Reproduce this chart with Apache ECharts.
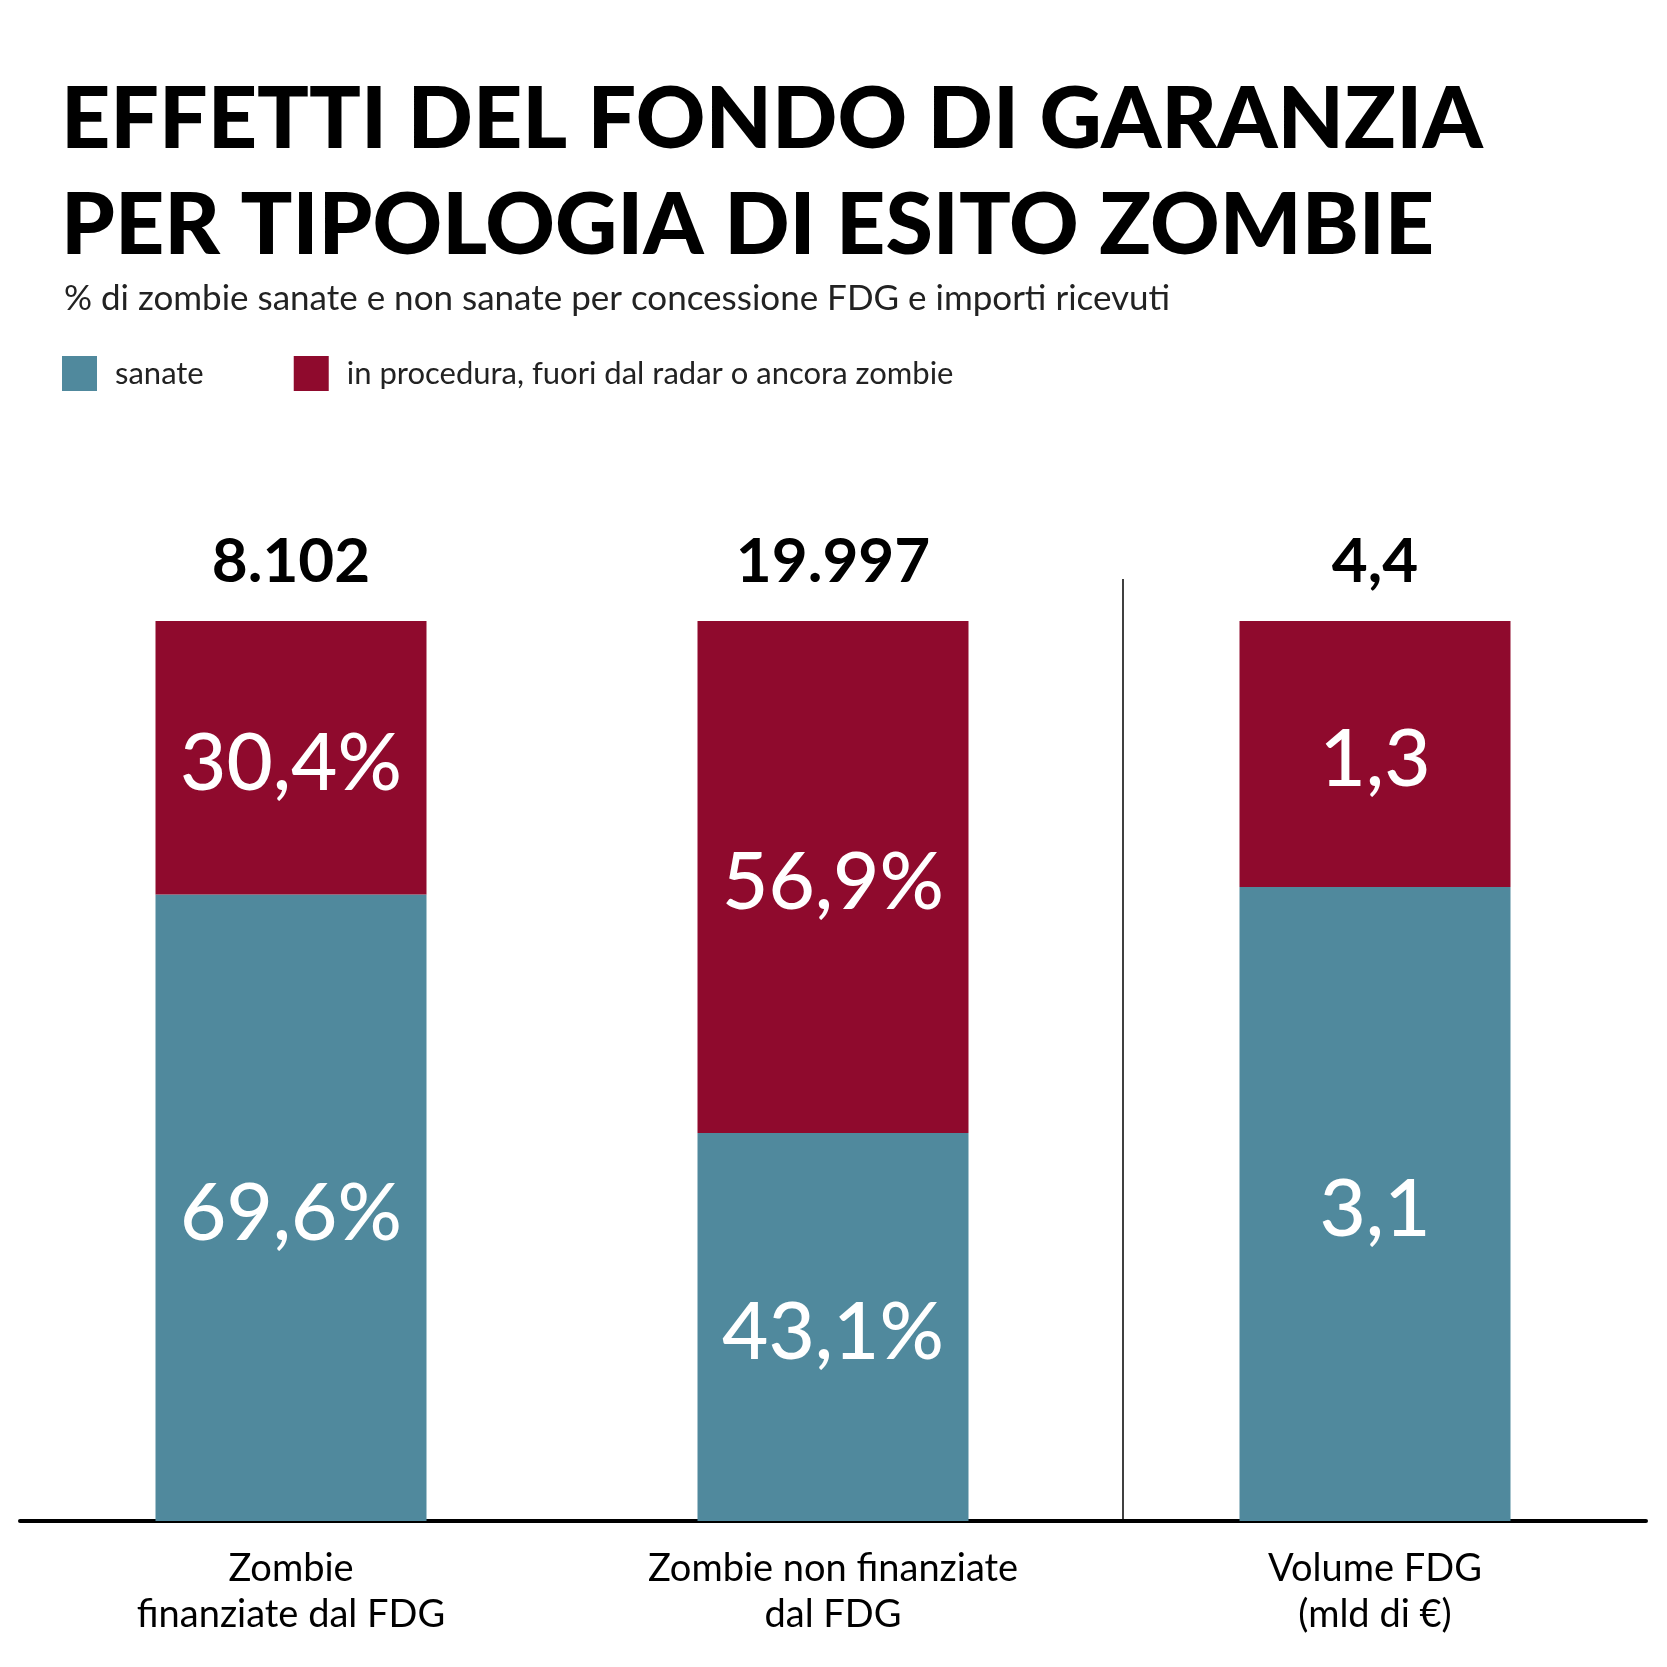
<!DOCTYPE html>
<html><head><meta charset="utf-8">
<script src="https://cdn.jsdelivr.net/npm/echarts@6/dist/echarts.min.js"></script>
<style>html,body{margin:0;padding:0;background:#fff}#c{width:1667px;height:1667px}</style>
</head><body><div id="c"></div>
<script>
const categories = ['Zombie\nfinanziate dal FDG', 'Zombie non finanziate\ndal FDG', 'Volume FDG\n(mld di €)'];
const totalLabels = ['8.102', '19.997', '4,4'];
const sanatePct = [69.6, 43.1, '-'];
const nonSanatePct = [30.4, 56.9, '-'];
const sanateVol = ['-', '-', 3.1];
const nonSanateVol = ['-', '-', 1.3];
const volTotal = 4.4;

const TEAL = '#50899D', RED = '#8F0A2D';
const FONT = 'Lato';
const fmtNum = v => String(v).replace('.', ',');
const inside = (suffix) => ({
  show: true, position: 'inside', offset: [0, 6], color: '#fff', fontFamily: FONT, fontSize: 80, fontWeight: 500,
  formatter: p => fmtNum(p.value) + suffix
});
const topLabel = {
  show: true, position: 'top', distance: 28, color: '#000', fontFamily: FONT, fontSize: 62, fontWeight: 'bold',
  formatter: p => totalLabels[p.dataIndex]
};

const chart = echarts.init(document.getElementById('c'), null, {renderer: 'canvas'});
chart.setOption({
  backgroundColor: '#fff',
  animation: false,
  title: [
    {text: 'EFFETTI DEL FONDO DI GARANZIA\nPER TIPOLOGIA DI ESITO ZOMBIE', left: 56, top: 62,
     textStyle: {fontFamily: FONT, fontWeight: 900, fontSize: 86, lineHeight: 106, color: '#000'}},
    {text: '% di zombie sanate e non sanate per concessione FDG e importi ricevuti', left: 59, top: 274,
     textStyle: {fontFamily: FONT, fontWeight: 'normal', fontSize: 35, lineHeight: 40, color: '#222'}}
  ],
  legend: {
    data: ['sanate', 'in procedura, fuori dal radar o ancora zombie'],
    left: 62, top: 356, padding: 0, itemWidth: 35, itemHeight: 35, itemGap: 90, icon: 'rect',
    textStyle: {fontFamily: FONT, fontSize: 31, color: '#222', padding: [0, 0, 0, 13]}
  },
  grid: {left: 20, width: 1626, top: 621, height: 900, containLabel: false},
  xAxis: {
    type: 'category', data: categories,
    axisLine: {show: true, lineStyle: {color: '#000', width: 4}},
    axisTick: {show: false},
    axisLabel: {fontFamily: FONT, fontSize: 38, lineHeight: 46, color: '#000', margin: 25}
  },
  yAxis: [
    {type: 'value', min: 0, max: 100, show: false, splitLine: {show: false}},
    {type: 'value', min: 0, max: volTotal, show: false, splitLine: {show: false}}
  ],
  series: [
    {name: 'sanate', type: 'bar', stack: 'pct', yAxisIndex: 0, data: sanatePct, barWidth: 271, barGap: '-100%',
     itemStyle: {color: TEAL}, label: inside('%')},
    {name: 'in procedura, fuori dal radar o ancora zombie', type: 'bar', stack: 'pct', yAxisIndex: 0, data: nonSanatePct,
     barWidth: 271, barGap: '-100%', itemStyle: {color: RED}, label: inside('%')},
    {name: 'totPct', type: 'bar', stack: 'pct', yAxisIndex: 0, data: [0, 0, '-'], barWidth: 271, barGap: '-100%',
     itemStyle: {color: 'transparent'}, label: topLabel},
    {name: 'sanate', type: 'bar', stack: 'vol', yAxisIndex: 1, data: sanateVol, barWidth: 271, barGap: '-100%',
     itemStyle: {color: TEAL}, label: inside('')},
    {name: 'in procedura, fuori dal radar o ancora zombie', type: 'bar', stack: 'vol', yAxisIndex: 1, data: nonSanateVol,
     barWidth: 271, barGap: '-100%', itemStyle: {color: RED}, label: inside('')},
    {name: 'totVol', type: 'bar', stack: 'vol', yAxisIndex: 1, data: ['-', '-', 0], barWidth: 271, barGap: '-100%',
     itemStyle: {color: 'transparent'}, label: topLabel}
  ],
  graphic: [
    {type: 'line', shape: {x1: 1123, y1: 579, x2: 1123, y2: 1521}, style: {stroke: '#000', lineWidth: 1.5}, z: 10}
  ]
});
</script></body></html>
